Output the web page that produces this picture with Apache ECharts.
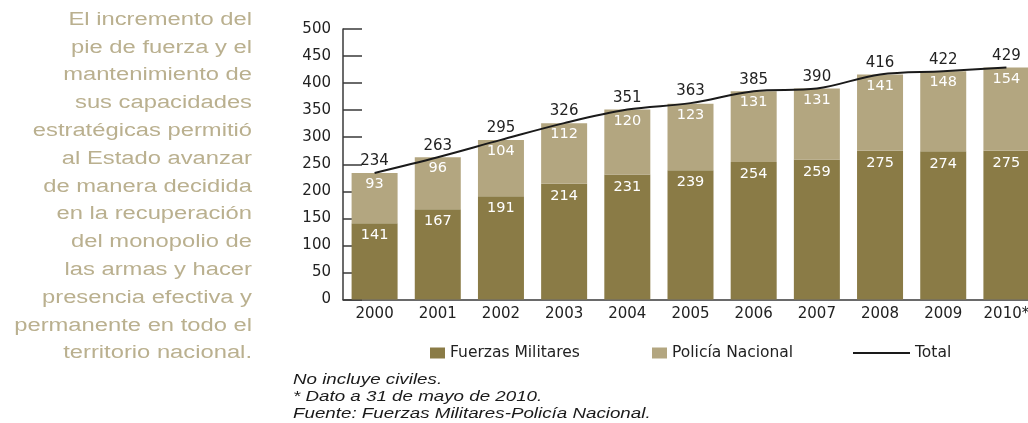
<!DOCTYPE html>
<html>
<head>
<meta charset="utf-8">
<script src="https://cdn.jsdelivr.net/npm/echarts@6/dist/echarts.min.js"></script>
<style>
  html, body { margin: 0; padding: 0; background: #ffffff; }
  #chart { width: 1028px; height: 423px; }
</style>
</head>
<body>
<div id="chart"></div>
<script>
const years = ['2000', '2001', '2002', '2003', '2004', '2005', '2006', '2007', '2008', '2009', '2010*'];
const fuerzasMilitares = [141, 167, 191, 214, 231, 239, 254, 259, 275, 274, 275];
const policiaNacional = [93, 96, 104, 112, 120, 123, 131, 131, 141, 148, 154];
const total = [234, 263, 295, 326, 351, 363, 385, 390, 416, 422, 429];
const seriesNames = ['Fuerzas Militares', 'Policía Nacional', 'Total'];
const sideText = [
  'El incremento del',
  'pie de fuerza y el',
  'mantenimiento de',
  'sus capacidades',
  'estratégicas permitió',
  'al Estado avanzar',
  'de manera decidida',
  'en la recuperación',
  'del monopolio de',
  'las armas y hacer',
  'presencia efectiva y',
  'permanente en todo el',
  'territorio nacional.'
];
const notes = [
  'No incluye civiles.',
  '* Dato a 31 de mayo de 2010.',
  'Fuente: Fuerzas Militares-Policía Nacional.'
];

const DARK = '#8a7b46';
const LIGHT = '#b3a680';
const AXIS = '#3a3a3a';
const FONT = 'DejaVu Sans';

const chart = echarts.init(document.getElementById('chart'));
const legendText = { fontFamily: FONT, fontSize: 15.5, color: '#222' };

chart.setOption({
  animation: false,
  backgroundColor: '#ffffff',
  grid: { left: 343, right: -10, top: 29, bottom: 123.5, containLabel: false, outerBoundsMode: 'none' },
  legend: [
    { data: [seriesNames[0]], left: 425, top: 340, icon: 'rect', itemWidth: 15, itemHeight: 11, itemGap: 8, textStyle: legendText, selectedMode: false },
    { data: [seriesNames[1]], left: 647, top: 340, icon: 'rect', itemWidth: 15, itemHeight: 11, textStyle: legendText, selectedMode: false },
    { data: [seriesNames[2]], left: 848, top: 340, icon: 'rect', itemWidth: 57, itemHeight: 2, textStyle: legendText, selectedMode: false }
  ],
  xAxis: {
    type: 'category',
    data: years,
    axisLine: { lineStyle: { color: AXIS, width: 1.5 } },
    axisTick: { inside: true, length: 6, lineStyle: { color: AXIS, width: 1.5 } },
    axisLabel: { fontFamily: FONT, fontSize: 15, color: '#222', margin: 7 }
  },
  yAxis: {
    type: 'value',
    min: 0, max: 500, interval: 50,
    axisLine: { show: true, lineStyle: { color: AXIS, width: 1.5 } },
    axisTick: { show: true, inside: true, length: 19, lineStyle: { color: AXIS, width: 1.5 } },
    splitLine: { show: false },
    axisLabel: { fontFamily: FONT, fontSize: 15, color: '#222', margin: 12 }
  },
  series: [
    {
      name: seriesNames[0], type: 'bar', stack: 'pie', data: fuerzasMilitares, barWidth: 46,
      itemStyle: { color: DARK },
      label: { show: true, position: 'insideTop', distance: 5, color: '#fff', fontFamily: FONT, fontSize: 14.5 }
    },
    {
      name: seriesNames[1], type: 'bar', stack: 'pie', data: policiaNacional, barWidth: 46,
      itemStyle: { color: LIGHT },
      label: { show: true, position: 'insideTop', distance: 4, color: '#fff', fontFamily: FONT, fontSize: 14.5 }
    },
    {
      name: seriesNames[2], type: 'line', data: total, smooth: 0.35,
      showSymbol: true, symbol: 'circle', symbolSize: 0.1, z: 5,
      lineStyle: { color: '#1a1a1a', width: 2 },
      itemStyle: { color: '#1a1a1a' },
      label: { show: true, position: 'top', distance: 4, color: '#222', fontFamily: FONT, fontSize: 15 },
      labelLayout: { hideOverlap: false }
    }
  ],
  graphic: [
    {
      type: 'text', x: 252, y: 6, scaleX: 1.32,
      style: {
        text: sideText.join('\n'), x: 0, y: 0, textAlign: 'right', textVerticalAlign: 'top',
        font: '18px "Liberation Sans", Arial, sans-serif', lineHeight: 27.8, fill: '#bab08f'
      }
    },
    {
      type: 'text', x: 293, y: 372, scaleX: 1.34,
      style: {
        text: notes.join('\n'), x: 0, y: 0, textAlign: 'left', textVerticalAlign: 'top',
        font: 'italic 14px "Liberation Sans", Arial, sans-serif', lineHeight: 17, fill: '#1a1a1a'
      }
    }
  ]
});
</script>
</body>
</html>
